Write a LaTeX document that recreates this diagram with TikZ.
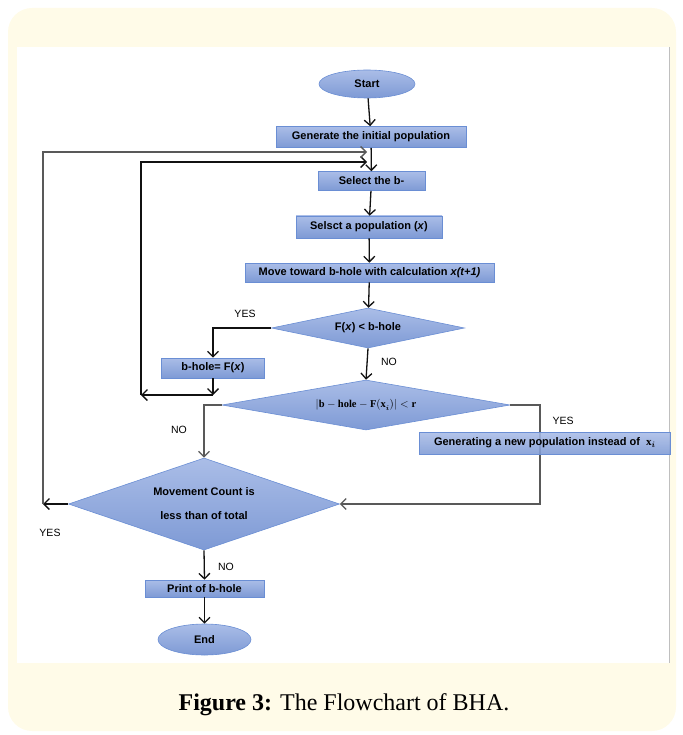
\documentclass[tikz,border=0pt]{standalone}
\usepackage{amsmath}
\usepackage{bm}
\usepackage{fontspec}
\setmainfont{Liberation Serif}
\setsansfont{Liberation Sans}
\usepackage{tikz}
\usetikzlibrary{shapes.geometric,arrows.meta}
\definecolor{panelcream}{HTML}{FFFBE8}
\definecolor{boxtop}{HTML}{AABDE7}
\definecolor{boxbottom}{HTML}{7E9AD5}
\definecolor{boxedge}{HTML}{6A8ED4}
\definecolor{flowfg}{HTML}{111111}

\begin{document}
\begin{tikzpicture}[x=1pt,y=-1pt,>={Straight Barb[length=5.5pt,width=11pt]},font=\sffamily]
  \tikzstyle{shaded}=[draw=boxedge, line width=0.6pt, top color=boxtop, bottom color=boxbottom, inner sep=0pt, font=\fontsize{11}{13}\sffamily\bfseries]
  \tikzstyle{procbox}=[shaded, rectangle]
  \tikzstyle{decision}=[shaded, diamond, align=center]
  \tikzstyle{terminal}=[shaded, ellipse]
  \tikzstyle{flow}=[->, draw=flowfg, line width=1.3pt]
  \tikzstyle{greyflow}=[->, draw=black!65, line width=1.3pt]
  \tikzstyle{branch}=[font=\fontsize{10.5}{12}\sffamily]

  \path[use as bounding box] (0,0) rectangle (682,735);

  % Frame: cream panel, white drawing area, caption.
  \fill[panelcream, rounded corners=24pt] (8,8) rectangle (676,731);
  \fill[white] (17,47) rectangle (670,663);
  \draw[black!25, line width=1pt] (669,47) -- (669,663);
  \node[font=\fontsize{24}{28}\selectfont] (caption) at (344,705) {\textbf{Figure 3:} The Flowchart of BHA.};

  % Main column.
  \node[terminal, minimum width=96pt, minimum height=28pt] (start) at (367,84) {Start};
  \node[procbox, minimum width=190pt, minimum height=21pt] (gen) at (371,137) {Generate the initial population};
  \node[procbox, minimum width=107pt, minimum height=19pt] (sel) at (371.5,181) {Select the b-};
  \node[procbox, minimum width=146pt, minimum height=22pt] (pick) at (369,227) {Selsct a population (\textit{x})};
  \node[procbox, minimum width=249pt, minimum height=19pt] (move) at (369.5,272.5) {Move toward b-hole with calculation \textit{x(t+1)}};
  \node[decision, aspect=4.8, minimum width=193pt, minimum height=40pt] (better) at (368,328) {F(\textit{x}) < b-hole};
  \node[procbox, minimum width=103pt, minimum height=20pt] (bhole) at (213,368) {b-hole= F(\textit{x})};
  \node[decision, aspect=5.76, minimum width=288pt, minimum height=50pt, font=\fontsize{10.5}{12}\selectfont] (near) at (366,405) {$|\mathbf{b-hole-F(x}_{\bm{i}}\mathbf{)}|<\mathbf{r}$};
  \node[decision, aspect=2.95, minimum width=271pt, minimum height=92pt, font=\fontsize{11}{24}\sffamily\bfseries] (count) at (204,504) {Movement Count is\\less than of total};
  \node[procbox, minimum width=119pt, minimum height=17pt] (print) at (204.5,588.5) {Print of b-hole};
  \node[terminal, minimum width=93pt, minimum height=31pt] (finish) at (204.5,639.5) {End};

  % Turning points of the loops.
  \coordinate (outerturn) at (43,504);
  \coordinate (outerin) at (367,152);
  \coordinate (innerin) at (367,162);
  \coordinate (bholedrop) at (213,395);
  \coordinate (innerturn) at (141,395);
  \coordinate (yesright) at (540,405);

  \draw[flow] (start) -- (gen);
  \draw[flow] (gen) -- (sel);
  \draw[flow] (sel) -- (pick);
  \draw[flow] (pick) -- (move);
  \draw[flow] (move) -- (better);
  \draw[flow] (better.west) -| (bhole.north);
  \draw[flow] (better.south) -- (near.north);
  \draw[flow] (bhole.south) -- (bholedrop);
  \draw[flow] (bholedrop) -- (innerturn);
  \draw[flow] (innerturn) |- (innerin);
  \draw[greyflow] (near.west) -| (count.north);
  \draw[greyflow] (near.east) -- (yesright) |- (count.east);
  \draw[flow] (count.west) -- (outerturn);
  \draw[greyflow] (outerturn) |- (outerin);
  \draw[flow] (count.south) -- (print.north);
  \draw[flow] (print) -- (finish);

  % Box laid over the YES line.
  \node[procbox, minimum width=251pt, minimum height=22pt, anchor=west, fill opacity=0.88, text opacity=1] (newpop) at (419,443) {Generating a new population instead of \ $\mathbf{x}_{\bm{i}}$};

  % Branch labels.
  \node[branch] (yesbetter) at (245,314) {YES};
  \node[branch] (nobetter) at (389,362) {NO};
  \node[branch] (nonear) at (179,430) {NO};
  \node[branch] (yesnear) at (563,421) {YES};
  \node[branch] (yescount) at (50,533) {YES};
  \node[branch] (nocount) at (226,567) {NO};
\end{tikzpicture}
\end{document}
